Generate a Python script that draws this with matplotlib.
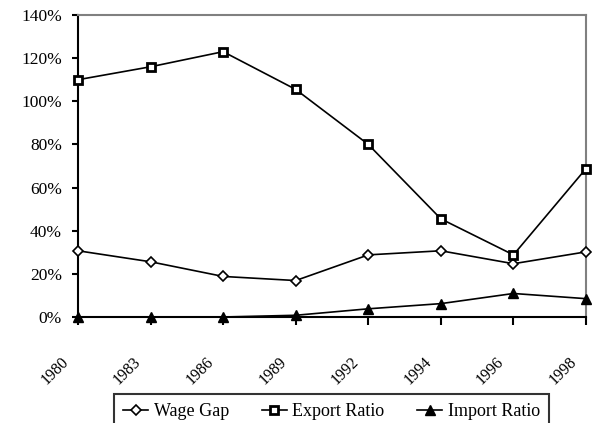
import matplotlib
matplotlib.use("Agg")
import matplotlib.pyplot as plt
from matplotlib.ticker import PercentFormatter
from matplotlib.transforms import ScaledTranslation

years = ["1980", "1983", "1986", "1989", "1992", "1994", "1996", "1998"]
wage_gap = [30.7, 25.6, 18.8, 16.9, 28.8, 30.7, 24.7, 30.2]
export_ratio = [110, 116, 123, 105.5, 80, 45.5, 28.8, 68.8]
import_ratio = [0, 0, 0, 0.8, 3.8, 6.2, 10.9, 8.5]

plt.rcParams['font.family'] = ['Liberation Serif', 'DejaVu Serif']

fig = plt.figure(figsize=(5.92, 4.23), dpi=100)
ax = fig.add_axes([78/592, 1-317/423, (586-78)/592, (317-15)/423])
x = list(range(len(years)))

ax.plot(x, wage_gap, color='black', lw=1.2, marker='D', ms=5.5, mfc='white', mec='black', mew=1.2, label='Wage Gap', clip_on=False, zorder=3)
ax.plot(x, export_ratio, color='black', lw=1.2, marker='s', ms=5.5, mfc='white', mec='black', mew=2, label='Export Ratio', clip_on=False, zorder=3)
ax.plot(x, import_ratio, color='black', lw=1.2, marker='^', ms=6.5, mfc='black', mec='black', label='Import Ratio', clip_on=False, zorder=3)

ax.set_xlim(0, len(years)-1)
ax.set_ylim(0, 140)
ax.set_yticks(range(0, 141, 20))
ax.yaxis.set_major_formatter(PercentFormatter(decimals=0))
ax.set_xticks(x)
ax.set_xticklabels(years, rotation=45, ha='center', va='center', fontsize=11.5, rotation_mode='anchor')
ax.tick_params(axis='x', direction='out', length=5.5, width=1.5, pad=33)
ax.tick_params(axis='y', direction='out', length=4.5, width=1.5, labelsize=12.5, pad=7)
off = ScaledTranslation(-23/100, 0, fig.dpi_scale_trans)
for lbl in ax.get_xticklabels():
    lbl.set_transform(lbl.get_transform() + off)

ax.spines['left'].set_color('black')
ax.spines['left'].set_linewidth(1.5)
ax.spines['bottom'].set_color('black')
ax.spines['bottom'].set_linewidth(1.5)
ax.spines['top'].set_color('#808080')
ax.spines['top'].set_linewidth(1.5)
ax.spines['right'].set_color('#808080')
ax.spines['right'].set_linewidth(1.5)

leg = fig.legend(loc='upper center', bbox_to_anchor=(331.5/592, 1-394/423), ncol=3, frameon=True,
                 fancybox=False, edgecolor='black', fontsize=13, handlelength=1.4,
                 columnspacing=1.8, handletextpad=0.3, borderpad=0.5, borderaxespad=0)
leg.get_frame().set_linewidth(1.5)

fig.savefig('out.png', dpi=100)
